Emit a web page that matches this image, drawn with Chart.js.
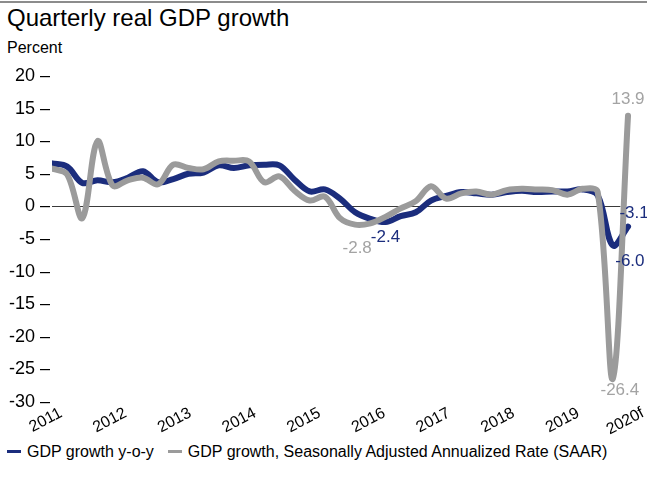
<!DOCTYPE html>
<html>
<head>
<meta charset="utf-8">
<title>Quarterly real GDP growth</title>
<script src="https://cdn.jsdelivr.net/npm/chart.js@4.4.1/dist/chart.umd.min.js"></script>
<style>
  html, body { margin: 0; padding: 0; background: #fff; }
  #page { position: relative; width: 647px; height: 489px; overflow: hidden;
          font-family: "Liberation Sans", Arial, sans-serif; color: #000; }
  #topRule { position: absolute; left: 0; top: 1px; width: 647px; height: 2px; background: #8c8c8c; }
  #title { position: absolute; left: 7px; top: 6px; font-size: 24px; line-height: 24px; white-space: nowrap; }
  #unit { position: absolute; left: 7px; top: 40px; font-size: 16px; line-height: 16px; }
  #chartBox { position: absolute; left: 0; top: 60px; width: 647px; height: 380px; }
  #legend { position: absolute; left: 7px; top: 444px; font-size: 16px; line-height: 16px; white-space: nowrap; }
  .key { display: inline-block; width: 14px; height: 3px; vertical-align: middle;
         position: relative; top: -1px; margin-right: 6px; }
  .gap { margin-left: 14px; }
</style>
</head>
<body>
<div id="page">
  <div id="topRule"></div>
  <div id="title">Quarterly real GDP growth</div>
  <div id="unit">Percent</div>
  <div id="chartBox"><canvas id="gdp" width="647" height="380"></canvas></div>
  <div id="legend">
    <span class="key" style="background:#1b2d7d"></span>GDP growth y-o-y<span class="key gap" style="background:#9b9b9b"></span>GDP growth, Seasonally Adjusted Annualized Rate (SAAR)
  </div>
</div>
<script>
// quarters 2011Q1 .. 2020Q3 (last quarters are forecasts)
const quarters = [
  '2011Q1','2011Q2','2011Q3','2011Q4','2012Q1','2012Q2','2012Q3','2012Q4',
  '2013Q1','2013Q2','2013Q3','2013Q4','2014Q1','2014Q2','2014Q3','2014Q4',
  '2015Q1','2015Q2','2015Q3','2015Q4','2016Q1','2016Q2','2016Q3','2016Q4',
  '2017Q1','2017Q2','2017Q3','2017Q4','2018Q1','2018Q2','2018Q3','2018Q4',
  '2019Q1','2019Q2','2019Q3','2019Q4','2020Q1','2020Q2','2020Q3'
];
const yearLabels = ['2011','2012','2013','2014','2015','2016','2017','2018','2019','2020f'];

const yoyGrowth = [
  6.6, 6.1, 3.6, 4.0, 3.7, 4.4, 5.4, 3.7,
  4.2, 5.0, 5.2, 6.3, 5.9, 6.3, 6.4, 6.3,
  4.1, 2.3, 2.6, 1.2, -0.9, -1.9, -2.4, -1.5,
  -0.9, 0.9, 1.6, 2.2, 2.0, 1.8, 2.2, 2.4,
  2.2, 2.3, 2.3, 2.6, 1.7, -6.0, -3.1
];
const saarGrowth = [
  5.8, 4.9, -1.8, 10.0, 3.2, 4.0, 4.4, 3.4,
  6.4, 5.9, 5.7, 6.9, 7.0, 6.9, 3.7, 4.6,
  2.4, 0.9, 1.5, -1.8, -2.8, -2.6, -1.6, -0.3,
  0.8, 3.1, 1.2, 2.0, 2.3, 1.8, 2.5, 2.7,
  2.6, 2.5, 1.8, 2.7, 2.2, -26.4, 13.9
];

const BLUE = '#1b2d7d';
const GREY = '#9b9b9b';
const GREY_TEXT = '#a3a3a3';
const FONT = '"Liberation Sans", Arial, sans-serif';

// values written next to the line ends and troughs
const valueLabels = [
  { series: 0, index: 22, dx: 0,  dy: 15, color: BLUE },
  { series: 0, index: 37, dx: 17, dy: 16, color: BLUE },
  { series: 0, index: 38, dx: 6,  dy: -13, color: BLUE },
  { series: 1, index: 20, dx: 2,  dy: 24, color: GREY_TEXT },
  { series: 1, index: 37, dx: 7,  dy: 12, color: GREY_TEXT },
  { series: 1, index: 38, dx: 0,  dy: -16, color: GREY_TEXT }
];

const toPoints = arr => arr.map((v, i) => ({ x: i, y: v }));

// zero line, stops half a quarter short of the last point
const zeroLinePlugin = {
  id: 'zeroLine',
  beforeDatasetsDraw(chart) {
    const { ctx, chartArea, scales } = chart;
    const y0 = Math.round(scales.y.getPixelForValue(0)) + 0.5;
    const xEnd = scales.x.getPixelForValue(quarters.length - 1.5);
    ctx.save();
    ctx.strokeStyle = '#3a3a3a';
    ctx.lineWidth = 1;
    ctx.beginPath();
    ctx.moveTo(chartArea.left, y0);
    ctx.lineTo(xEnd, y0);
    ctx.stroke();
    ctx.restore();
  }
};

// slanted year labels, right end of each label sits on its year position
const yearLabelPlugin = {
  id: 'yearLabels',
  afterDraw(chart) {
    const { ctx, chartArea, scales } = chart;
    ctx.save();
    ctx.font = '16px ' + FONT;
    ctx.fillStyle = '#000';
    ctx.textAlign = 'right';
    ctx.textBaseline = 'alphabetic';
    yearLabels.forEach((t, i) => {
      ctx.save();
      ctx.translate(scales.years.getPixelForValue(i), chartArea.bottom + 14);
      ctx.rotate(-28 * Math.PI / 180);
      ctx.fillText(t, 0, 0);
      ctx.restore();
    });
    ctx.restore();
  }
};

const valueLabelPlugin = {
  id: 'valueLabels',
  afterDatasetsDraw(chart) {
    const ctx = chart.ctx;
    ctx.save();
    ctx.font = '17px ' + FONT;
    ctx.textAlign = 'center';
    ctx.textBaseline = 'middle';
    valueLabels.forEach(l => {
      const meta = chart.getDatasetMeta(l.series);
      const pt = meta.data[l.index];
      const v = chart.data.datasets[l.series].data[l.index].y;
      ctx.fillStyle = l.color;
      ctx.fillText(v.toFixed(1), pt.x + l.dx, pt.y + l.dy);
    });
    ctx.restore();
  }
};

new Chart(document.getElementById('gdp'), {
  type: 'line',
  data: {
    datasets: [{
        label: 'GDP growth y-o-y',
        data: toPoints(yoyGrowth),
        borderColor: BLUE,
        borderWidth: 6,
        pointRadius: 0,
        tension: 0.35,
        borderCapStyle: 'round',
        borderJoinStyle: 'round',
        fill: false,
        order: 1
      }, {
        label: 'GDP growth, Seasonally Adjusted Annualized Rate (SAAR)',
        data: toPoints(saarGrowth),
        borderColor: GREY,
        borderWidth: 6,
        pointRadius: 0,
        tension: 0.35,
        borderCapStyle: 'round',
        borderJoinStyle: 'round',
        fill: false,
        order: 0
      }]
  },
  options: {
    responsive: false,
    animation: false,
    devicePixelRatio: 1,
    layout: { padding: { top: 16, right: 2, left: 0, bottom: 38 } },
    scales: {
      x: {
        type: 'linear',
        display: false,
        min: 0,
        max: 39.12
      },
      years: {
        type: 'linear',
        position: 'bottom',
        display: false,
        min: -0.17,
        max: 9
      },
      y: {
        min: -30,
        max: 20,
        afterFit: s => { s.width = 52; },
        border: { display: false },
        grid: { display: false, drawTicks: false },
        ticks: {
          stepSize: 5,
          padding: 2,
          color: '#000',
          font: { family: FONT, size: 18 },
          callback: v => v + ' \u2013'
        }
      }
    },
    plugins: {
      legend: { display: false },
      title: { display: false },
      tooltip: { enabled: false }
    }
  },
  plugins: [zeroLinePlugin, valueLabelPlugin, yearLabelPlugin]
});
</script>
</body>
</html>
